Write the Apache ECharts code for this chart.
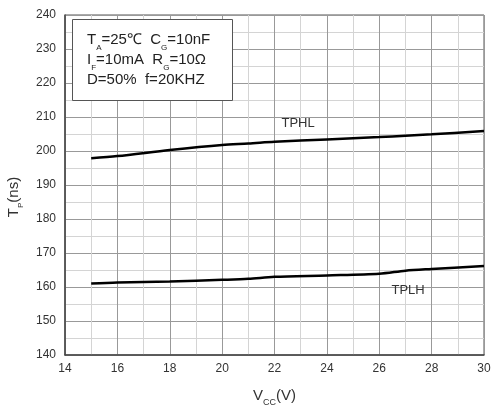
<!DOCTYPE html>
<html>
<head>
<meta charset="utf-8">
<script src="https://cdn.jsdelivr.net/npm/echarts@6/dist/echarts.min.js"></script>
<style>
  html, body { margin: 0; padding: 0; background: #fff; }
  #chart { width: 495px; height: 406px; }
</style>
</head>
<body>
<div id="chart"></div>
<script>
// Supply voltage (V) sample points
const vcc = [15, 16, 18, 20, 21, 22, 24, 26, 27, 28, 30];
// High-to-low propagation delay (ns)
const tphl = [197.9, 198.5, 200.3, 201.8, 202.2, 202.7, 203.4, 204.1, 204.5, 204.9, 205.9];
// Low-to-high propagation delay (ns)
const tplh = [161.0, 161.3, 161.6, 162.1, 162.4, 163.0, 163.4, 163.9, 164.8, 165.3, 166.2];

const xTicks = { min: 14, max: 30, interval: 2 };
const yTicks = { min: 140, max: 240, interval: 10 };

const FONT = 'Liberation Sans, Arial, sans-serif';
const TEXT = '#333';

function pairs(xs, ys) { return xs.map((x, i) => [x, ys[i]]); }

const chart = echarts.init(document.getElementById('chart'), null, { renderer: 'canvas' });

const sub = (size) => ({ fontSize: size, fontFamily: FONT, color: TEXT });

chart.setOption({
  animation: false,
  backgroundColor: '#fff',
  grid: {
    left: 65, right: 11, top: 15, bottom: 51,
    outerBoundsMode: 'none', containLabel: false,
    show: true, borderColor: '#555', borderWidth: 1
  },
  xAxis: {
    type: 'value',
    min: xTicks.min, max: xTicks.max, interval: xTicks.interval,
    name: '{v|V}{s|CC}{v|(V)}',
    nameLocation: 'middle', nameGap: 33,
    nameTextStyle: {
      rich: {
        v: Object.assign(sub(15), { verticalAlign: 'top', lineHeight: 19 }),
        s: Object.assign(sub(9), { verticalAlign: 'bottom', lineHeight: 19 })
      }
    },
    axisLine: { lineStyle: { color: '#444', width: 1.5 } },
    axisTick: { show: false },
    axisLabel: { color: TEXT, fontSize: 12, fontFamily: FONT, margin: 8 },
    splitLine: { lineStyle: { color: '#999', width: 1 } },
    minorTick: { show: false, splitNumber: 2 },
    minorSplitLine: { show: true, lineStyle: { color: '#d4d4d4', width: 1 } }
  },
  yAxis: {
    type: 'value',
    min: yTicks.min, max: yTicks.max, interval: yTicks.interval,
    name: '{v|T}{s|P}{v|(ns)}',
    nameLocation: 'middle', nameGap: 29, nameRotate: 90,
    nameTextStyle: {
      padding: [0, 24, 0, 0],
      rich: {
        v: Object.assign(sub(15), { verticalAlign: 'top', lineHeight: 19 }),
        s: Object.assign(sub(8), { verticalAlign: 'bottom', lineHeight: 19 })
      }
    },
    axisLine: { show: true, lineStyle: { color: '#444', width: 1.5 } },
    axisTick: { show: false },
    axisLabel: { color: TEXT, fontSize: 12, fontFamily: FONT, margin: 9 },
    splitLine: { lineStyle: { color: '#999', width: 1 } },
    minorTick: { show: false, splitNumber: 2 },
    minorSplitLine: { show: true, lineStyle: { color: '#d4d4d4', width: 1 } }
  },
  series: [
    {
      name: 'TPHL', type: 'line', data: pairs(vcc, tphl),
      symbol: 'none', smooth: 0.3,
      lineStyle: { color: '#000', width: 2.5 },
      markPoint: {
        symbol: 'circle', symbolSize: 0,
        label: { show: true, position: 'inside', formatter: 'TPHL', color: TEXT, fontSize: 13, fontFamily: FONT },
        data: [{ coord: [22.9, 208.0] }]
      }
    },
    {
      name: 'TPLH', type: 'line', data: pairs(vcc, tplh),
      symbol: 'none', smooth: 0.3,
      lineStyle: { color: '#000', width: 2.5 },
      markPoint: {
        symbol: 'circle', symbolSize: 0,
        label: { show: true, position: 'inside', formatter: 'TPLH', color: TEXT, fontSize: 13, fontFamily: FONT },
        data: [{ coord: [27.1, 158.9] }]
      }
    }
  ],
  graphic: [
    {
      type: 'rect', left: 72, top: 19, z: 10,
      shape: { width: 160, height: 81 },
      style: { fill: '#fff', stroke: '#555', lineWidth: 1 }
    },
    {
      type: 'text', left: 87, top: 32, z: 11,
      style: {
        text: '{m|T}{s|A}{m|=25℃  C}{s|G}{m|=10nF}\n{m|I}{s|F}{m|=10mA  R}{s|G}{m|=10Ω}\n{m|D=50%  f=20KHZ}',
        fontFamily: FONT,
        rich: {
          m: { fontSize: 15, fontFamily: FONT, fill: '#222', lineHeight: 20, verticalAlign: 'top' },
          s: { fontSize: 8, fontFamily: FONT, fill: '#222', lineHeight: 20, verticalAlign: 'bottom' }
        }
      }
    }
  ]
});
</script>
</body>
</html>
